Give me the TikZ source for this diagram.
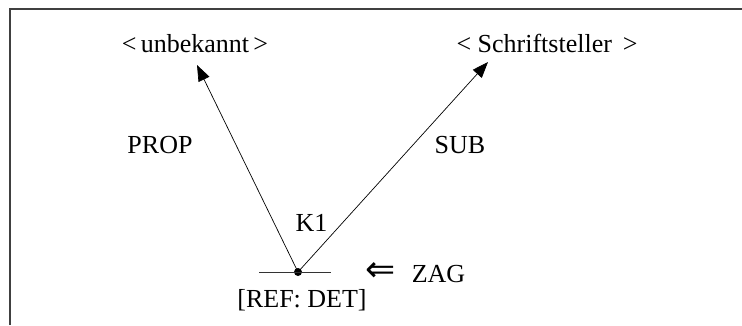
\documentclass[tikz,border=0pt]{standalone}
\usepackage{fontspec}
\setmainfont{Liberation Serif}
\newfontfamily\arrowfont{DejaVu Sans}
\usetikzlibrary{arrows.meta}
\begin{document}
\begin{tikzpicture}[x=1pt,y=-1pt,
  lbl/.style={anchor=base,inner sep=0pt,font=\fontsize{26}{30}\selectfont},
  sym/.style={anchor=center,inner sep=0pt,font=\arrowfont\fontsize{36}{40}\selectfont},
  arr/.style={-{Triangle[length=16pt,width=12pt]},line width=0.7pt},
  frame/.style={line width=1.5pt,draw=black!75},
  dotn/.style={circle,fill=black,inner sep=0pt,minimum size=8pt},
  bar/.style={line width=0.9pt,draw=black!80}]
\useasboundingbox (0,0) rectangle (742,325);
\coordinate (fb) at (10,325);
\coordinate (fc) at (10,9);
\coordinate (fr) at (742,9);
\draw[frame] (fb) -- (fc) -- (fr);
\node[lbl] (unb) at (195,52) {<\,unbekannt\,>};
\node[lbl] (schr) at (547,52) {<\ Schriftsteller\ \,>};
\node[lbl] (prop) at (160,153) {PROP};
\node[lbl] (sub) at (460,153) {SUB};
\node[lbl] (k1) at (311.5,231) {K1};
\node[lbl] (ref) at (302,307) {[REF: DET]};
\node[sym] (larr) at (381,272) {⇐};
\node[lbl] (zag) at (438.5,282) {ZAG};
\node[dotn] (d) at (298,272) {};
\coordinate (hl) at (259,272);
\coordinate (hr) at (331,272);
\draw[bar] (hl) -- (hr);
\coordinate (t1) at (197,65);
\coordinate (t2) at (488,62);
\draw[arr] (d.center) -- (t1);
\draw[arr] (d.center) -- (t2);
\end{tikzpicture}
\end{document}
